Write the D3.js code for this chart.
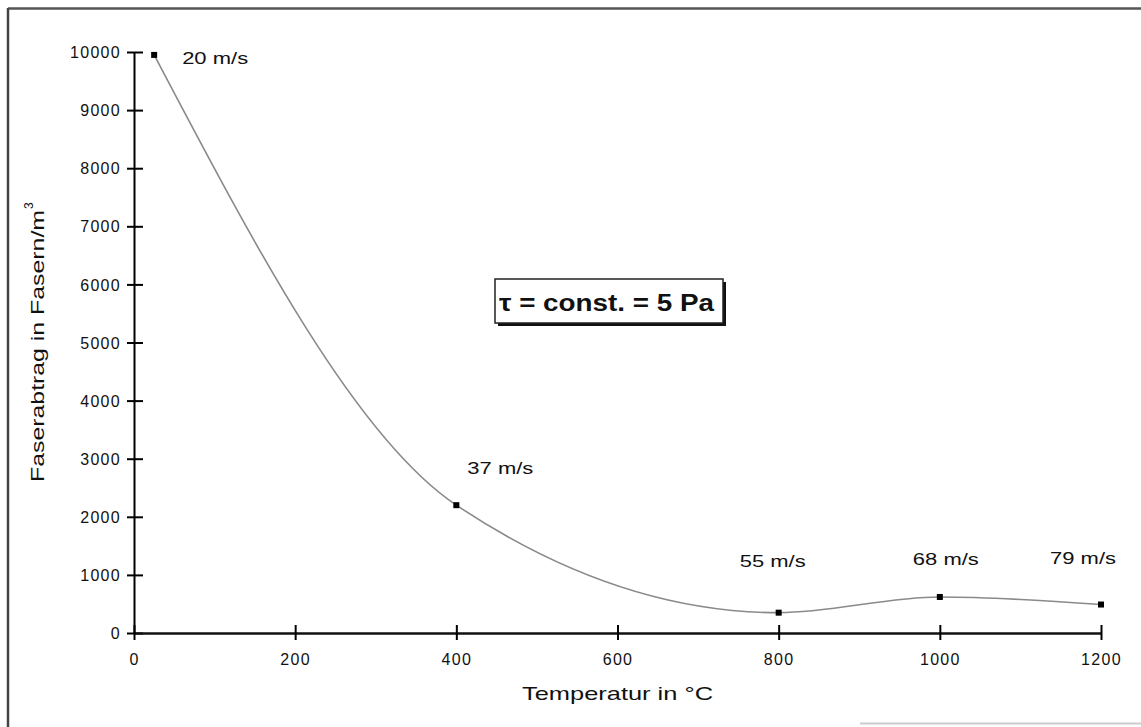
<!DOCTYPE html>
<html><head><meta charset="utf-8">
<script src="https://cdn.jsdelivr.net/npm/d3@7/dist/d3.min.js"></script>
<style>
html,body{margin:0;padding:0;background:#fff;}
text{font-family:"Liberation Sans",Arial,sans-serif;fill:#111;}
</style></head>
<body>
<svg id="c" width="1141" height="727"></svg>
<script>
// ---- data ----
const temperatures = [25, 400, 800, 1000, 1200];
const fiberLoss = [9950, 2200, 350, 620, 490];
const speedLabels = ["20 m/s", "37 m/s", "55 m/s", "68 m/s", "79 m/s"];
const xTicks = [0, 200, 400, 600, 800, 1000, 1200];
const yTicks = [0, 1000, 2000, 3000, 4000, 5000, 6000, 7000, 8000, 9000, 10000];
const xTitle = "Temperatur in °C";
const yTitle = "Faserabtrag in Fasern/m";
const boxText = "τ = const. = 5 Pa";

const svg = d3.select("#c");
const x = d3.scaleLinear().domain([0, 1200]).range([134, 1101]);
const y = d3.scaleLinear().domain([0, 10000]).range([633, 52]);

// frame
svg.append("line").attr("x1", 8).attr("x2", 1141).attr("y1", 8.5).attr("y2", 8.5).attr("stroke", "#555").attr("stroke-width", 2.5);
svg.append("line").attr("x1", 8).attr("x2", 8).attr("y1", 8).attr("y2", 727).attr("stroke", "#444").attr("stroke-width", 2.5);
svg.append("line").attr("x1", 860).attr("x2", 1141).attr("y1", 723.5).attr("y2", 723.5).attr("stroke", "#ccc").attr("stroke-width", 2);

// y axis
const yAxis = d3.axisLeft(y).tickValues(yTicks).tickFormat(d3.format("d")).tickSize(0).tickPadding(13);
const gy = svg.append("g").attr("transform", `translate(${x(0)},0)`).call(yAxis);
gy.select(".domain").attr("stroke", "#000").attr("stroke-width", 2);
gy.selectAll(".tick line").attr("x1", -7).attr("x2", 9).attr("stroke", "#000").attr("stroke-width", 2);
gy.selectAll(".tick text").attr("font-size", 16).attr("font-family", "Liberation Sans, Arial, sans-serif")
  .attr("fill", "#111").attr("letter-spacing", "1.3px").attr("dy", "0.35em");

// x axis
const xAxis = d3.axisBottom(x).tickValues(xTicks).tickFormat(d3.format("d")).tickSize(0).tickPadding(32);
const gx = svg.append("g").attr("transform", `translate(0,${y(0)})`).call(xAxis);
gx.select(".domain").attr("stroke", "#111").attr("stroke-width", 2.5);
gx.selectAll(".tick line").attr("y1", -8).attr("y2", 7).attr("stroke", "#000").attr("stroke-width", 2);
gx.selectAll(".tick text").attr("font-size", 16).attr("font-family", "Liberation Sans, Arial, sans-serif")
  .attr("fill", "#111").attr("letter-spacing", "1.3px").attr("dy", "0");

// curve
const pts = temperatures.map((t, i) => [t, fiberLoss[i]]);
const line = d3.line().x(d => x(d[0])).y(d => y(d[1])).curve(d3.curveMonotoneX);
svg.append("path").attr("d", line(pts)).attr("fill", "none").attr("stroke", "#8a8a8a").attr("stroke-width", 1.6);

// points
svg.selectAll("rect.pt").data(pts).enter().append("rect").attr("class", "pt")
  .attr("x", d => x(d[0]) - 3).attr("y", d => y(d[1]) - 3).attr("width", 6).attr("height", 6).attr("fill", "#000");

// speed labels
const labelDx = [28, 11, -39, -27, -51];
const labelY = [64, 474, 567, 565, 564];
svg.selectAll("text.lab").data(speedLabels).enter().append("text").attr("class", "lab")
  .attr("x", (d, i) => x(temperatures[i]) + labelDx[i])
  .attr("y", (d, i) => labelY[i])
  .attr("font-size", 17).attr("textLength", 66).attr("lengthAdjust", "spacingAndGlyphs")
  .text(d => d);

// axis titles
svg.append("text").attr("x", 522).attr("y", 700).attr("font-size", 19)
  .attr("textLength", 191).attr("lengthAdjust", "spacingAndGlyphs").text(xTitle);
svg.append("text").attr("transform", "translate(44,482) rotate(-90)").attr("font-size", 19)
  .attr("textLength", 272).attr("lengthAdjust", "spacingAndGlyphs").text(yTitle);
svg.append("text").attr("transform", "translate(33,209) rotate(-90)").attr("font-size", 12).text("3");

// annotation box
svg.append("rect").attr("x", 498).attr("y", 282).attr("width", 228).attr("height", 44).attr("fill", "#111");
svg.append("rect").attr("x", 495).attr("y", 279).attr("width", 228).attr("height", 44).attr("fill", "#fff")
  .attr("stroke", "#222").attr("stroke-width", 1.5);
svg.append("text").attr("x", 499).attr("y", 311).attr("font-size", 23).attr("font-weight", "bold")
  .attr("textLength", 215).attr("lengthAdjust", "spacingAndGlyphs").text(boxText);
</script>
</body></html>
